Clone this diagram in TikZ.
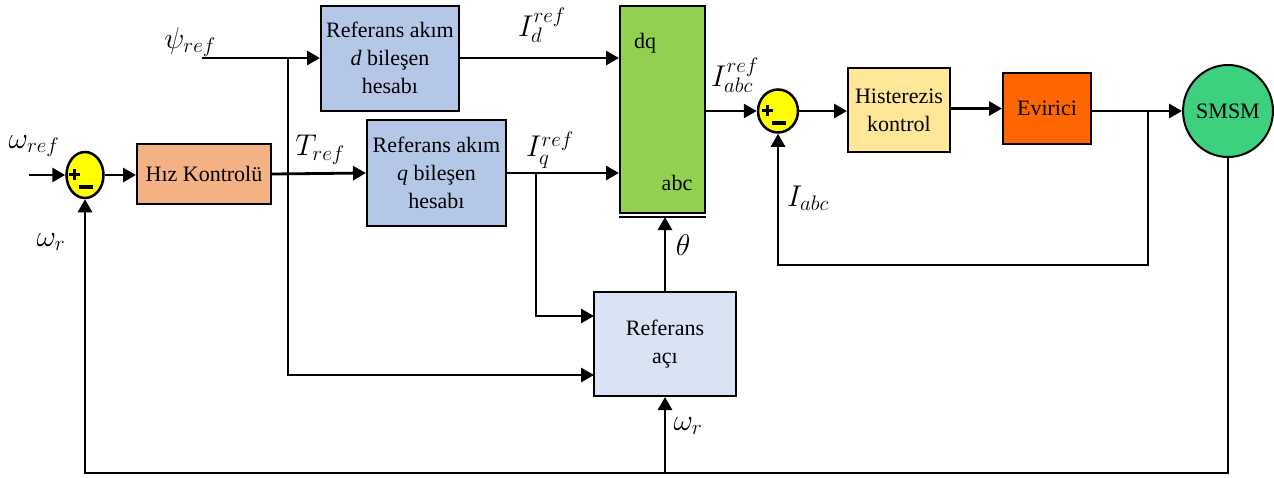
\RequirePackage{fix-cm}
\documentclass[tikz,border=0pt]{standalone}
\usepackage{fontspec}
\setmainfont{Liberation Serif}
\usetikzlibrary{arrows.meta,shapes.geometric,calc}
\definecolor{hizc}{HTML}{F4B183}
\definecolor{bluec}{HTML}{B4C7E7}
\definecolor{acic}{HTML}{DAE3F3}
\definecolor{dqc}{HTML}{92D050}
\definecolor{histc}{HTML}{FFE699}
\definecolor{evc}{HTML}{FF6600}
\definecolor{smc}{HTML}{3DD07F}
\definecolor{sumc}{HTML}{FFFF00}
\begin{document}
\begin{tikzpicture}[x=1pt,y=-1pt,
  blk/.style={draw, line width=2pt, font=\rmfamily\fontsize{22}{28}\selectfont, align=center, inner sep=0pt},
  sumnode/.style={ellipse, draw, line width=2.5pt, fill=sumc, inner sep=0pt},
  conn/.style={line width=2.8pt},
  arr/.style={conn, -{Triangle[length=13pt,width=14pt]}},
  lbl/.style={font=\rmfamily\fontsize{30}{34}\selectfont, inner sep=0pt},
  txt/.style={font=\rmfamily\fontsize{22}{28}\selectfont, inner sep=0pt},
  sgn/.style={line width=3pt}]
\useasboundingbox (0,0) rectangle (1274,477);

% blocks
\node[sumnode, minimum width=37pt, minimum height=46pt] (s1) at (85,175) {};
\node[blk, fill=hizc, minimum width=134pt, minimum height=60pt] (hiz) at (204,174) {Hız Kontrolü};
\node[blk, fill=bluec, minimum width=138pt, minimum height=105pt] (d) at (390,58) {Referans akım\\\textit{d} bileşen\\hesabı};
\node[blk, fill=bluec, minimum width=139pt, minimum height=106pt] (q) at (436.5,173) {Referans akım\\\textit{q} bileşen\\hesabı};
\node[blk, fill=dqc, minimum width=85pt, minimum height=207pt] (dq) at (662.5,109.5) {};
\node[txt] (dqt) at (645,43) {dq};
\node[txt] (abct) at (677,183) {abc};
\coordinate (dqb) at (664,217);
\draw[line width=1.5pt] (dq.south west |- dqb) -- (dq.south east |- dqb);
\node[blk, fill=acic, minimum width=142pt, minimum height=104pt] (aci) at (665,344) {Referans\\açı};
\node[sumnode, minimum width=40pt, minimum height=43pt] (s2) at (778,111) {};
\node[blk, fill=histc, minimum width=102pt, minimum height=84pt] (hist) at (899,110) {Histerezis\\kontrol};
\node[blk, fill=evc, minimum width=88pt, minimum height=71pt] (ev) at (1047,108.5) {Evirici};
\node[blk, ellipse, fill=smc, minimum width=75pt, minimum height=92pt] (sm) at (1228,111) {SMSM};

% signs
\foreach \s in {s1,s2}{
  \draw[sgn] ($(\s)+(-16,-1)$) -- ($(\s)+(-5,-1)$);
  \draw[sgn] ($(\s)+(-10.5,-6.5)$) -- ($(\s)+(-10.5,4.5)$);
  \draw[line width=4pt] ($(\s)+(-6,12)$) -- ($(\s)+(8,12)$);
}

% coordinates
\coordinate (win) at (29,175);
\coordinate (psi) at (202,58);
\coordinate (j1) at (288,58);
\coordinate (a2) at (594,375);
\coordinate (j2) at (536,173);
\coordinate (a1) at (594,316);
\coordinate (j3) at (1148,110);
\coordinate (fb) at (778,265);
\coordinate (bl) at (85,473);
\coordinate (br) at (1228,473);
\coordinate (bm) at (665,473);

% connectors
\draw[arr] (win) -- (s1.west);
\draw[arr] (s1.east) -- (s1.east -| hiz.west);
\draw[arr] (hiz.east) -- (q.west);
\draw[arr] (psi) -- (d.west);
\draw[arr] (j1) |- (a2);
\draw[arr] (d.east) -- (d.east -| dq.west);
\draw[arr] (q.east) -- (q.east -| dq.west);
\draw[arr] (j2) |- (a1);
\draw[arr] (aci.north) -- (aci.north |- dqb);
\draw[arr] (dq.east |- s2.west) -- (s2.west);
\draw[arr] (s2.east) -- (s2.east -| hist.west);
\draw[arr] (hist.east |- ev.west) -- (ev.west);
\draw[arr] (ev.east |- sm.west) -- (sm.west);
\draw[arr] (j3) |- (fb) -- (s2.south);
\draw[arr] (sm.south) -- (br) -- (bl) -- (s1.south);
\draw[arr] (bm) -- (aci.south);

% labels
\node[lbl] (l1) at (34,146) {$\omega_{ref}$};
\node[lbl] (l2) at (51,242) {$\omega_r$};
\node[lbl] (l3) at (190,42) {$\psi_{ref}$};
\node[lbl] (l4) at (320,150) {$T_{ref}$};
\node[lbl] (l5) at (542,25) {$I_d^{ref}$};
\node[lbl] (l6) at (550,150) {$I_q^{ref}$};
\node[lbl] (l7) at (735,75) {$I_{abc}^{ref}$};
\node[lbl] (l8) at (683,245) {$\theta$};
\node[lbl] (l9) at (808,198) {$I_{abc}$};
\node[lbl] (l10) at (688,426) {$\omega_r$};
\end{tikzpicture}
\end{document}
